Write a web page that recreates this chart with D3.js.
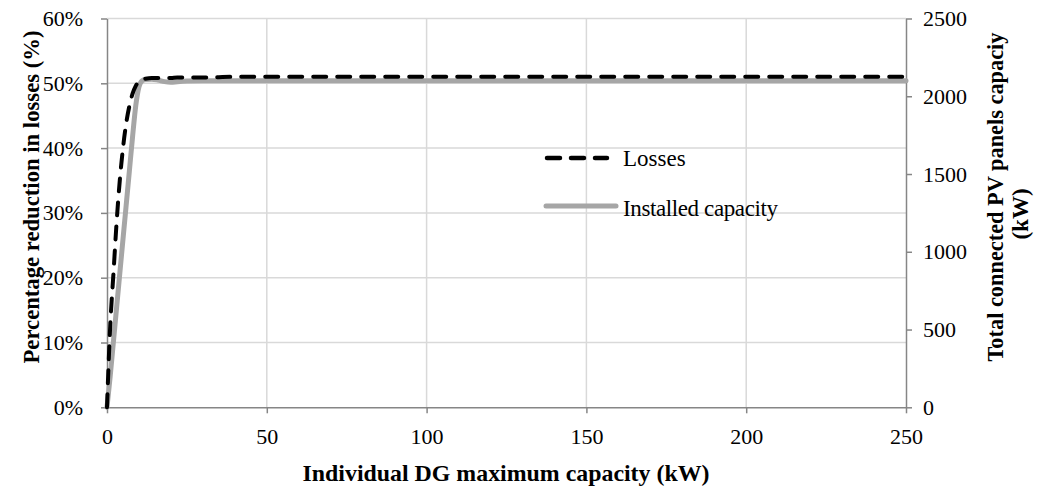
<!DOCTYPE html>
<html>
<head>
<meta charset="utf-8">
<script src="https://cdn.jsdelivr.net/npm/d3@7"></script>
<style>
  html, body { margin: 0; padding: 0; background: #fff; }
  svg { display: block; font-family: "Liberation Serif", "Times New Roman", serif; }
</style>
</head>
<body>
<svg id="chart" width="1041" height="489"></svg>
<script>
// Individual DG maximum capacity (kW)
const capacityKW = [0, 1, 2, 3, 4, 5, 6, 7, 8, 9, 10, 11, 12, 14, 16, 18, 20, 22, 25, 30, 40, 50, 75, 100, 125, 150, 175, 200, 225, 250];
// Percentage reduction in losses (fraction)
const lossReduction = [0, 0.125, 0.205, 0.285, 0.35, 0.40, 0.438, 0.465, 0.484, 0.496, 0.503, 0.506, 0.507, 0.508, 0.508, 0.508, 0.508, 0.509, 0.509, 0.509, 0.51, 0.51, 0.51, 0.51, 0.51, 0.51, 0.51, 0.51, 0.51, 0.51];
// Total connected PV panels capacity (kW)
const installedPV = [0, 200, 420, 640, 860, 1080, 1300, 1520, 1740, 1940, 2060, 2100, 2108, 2110, 2104, 2094, 2090, 2094, 2098, 2100, 2100, 2100, 2100, 2100, 2100, 2100, 2100, 2100, 2100, 2100];

const xTicks = [0, 50, 100, 150, 200, 250];
const leftTicks = [0, 0.1, 0.2, 0.3, 0.4, 0.5, 0.6];
const rightTicks = [0, 500, 1000, 1500, 2000, 2500];

const svg = d3.select("#chart");
const plot = { left: 107, right: 906, top: 18.5, bottom: 407.3 };

const x = d3.scaleLinear().domain([0, 250]).range([plot.left, plot.right]);
const yL = d3.scaleLinear().domain([0, 0.6]).range([plot.bottom, plot.top]);
const yR = d3.scaleLinear().domain([0, 2500]).range([plot.bottom, plot.top]);

const gridColor = "#d9d9d9";
const axisColor = "#868686";
const tickFont = 22;
const labelFont = 23;

// Gridlines
svg.append("g").selectAll("line.h").data(leftTicks.slice(1)).join("line")
  .attr("x1", plot.left).attr("x2", plot.right)
  .attr("y1", d => yL(d)).attr("y2", d => yL(d))
  .attr("stroke", gridColor).attr("stroke-width", 1.5);
svg.append("g").selectAll("line.v").data(xTicks.slice(1, -1)).join("line")
  .attr("x1", d => x(d)).attr("x2", d => x(d))
  .attr("y1", plot.top).attr("y2", plot.bottom)
  .attr("stroke", gridColor).attr("stroke-width", 1.5);

// Axes
function styleAxis(g) {
  g.select(".domain").attr("stroke", axisColor).attr("stroke-width", 1.5);
  g.selectAll(".tick line").attr("stroke", axisColor).attr("stroke-width", 1.5);
  g.selectAll(".tick text").attr("fill", "#000").style("font-size", tickFont + "px")
    .style("font-family", "'Liberation Serif', 'Times New Roman', serif");
}

svg.append("g").attr("transform", `translate(0,${plot.bottom})`)
  .call(d3.axisBottom(x).tickValues(xTicks).tickSize(6).tickPadding(15).tickSizeOuter(0))
  .call(styleAxis);

svg.append("g").attr("transform", `translate(${plot.left},0)`)
  .call(d3.axisLeft(yL).tickValues(leftTicks).tickFormat(d3.format(".0%")).tickSize(6).tickPadding(18).tickSizeOuter(0))
  .call(styleAxis);

svg.append("g").attr("transform", `translate(${plot.right},0)`)
  .call(d3.axisRight(yR).tickValues(rightTicks).tickFormat(d3.format("d")).tickSize(6).tickPadding(11).tickSizeOuter(0))
  .call(styleAxis);

// Series
const data = capacityKW.map((c, i) => ({ c, loss: lossReduction[i], pv: installedPV[i] }));

svg.append("path").datum(data)
  .attr("fill", "none").attr("stroke", "#a6a6a6").attr("stroke-width", 5)
  .attr("stroke-linejoin", "round").attr("stroke-linecap", "round")
  .attr("d", d3.line().x(d => x(d.c)).y(d => yR(d.pv)).curve(d3.curveMonotoneX));

svg.append("path").datum(data)
  .attr("fill", "none").attr("stroke", "#000").attr("stroke-width", 4)
  .attr("stroke-dasharray", "13,11").attr("stroke-linecap", "round")
  .attr("d", d3.line().x(d => x(d.c)).y(d => yL(d.loss)).curve(d3.curveMonotoneX));

// Legend
const legend = svg.append("g").style("font-size", labelFont + "px");
legend.append("line").attr("x1", 547).attr("x2", 607).attr("y1", 158).attr("y2", 158)
  .attr("stroke", "#000").attr("stroke-width", 4.5).attr("stroke-dasharray", "13,11").attr("stroke-linecap", "round");
legend.append("text").attr("x", 623).attr("y", 166).text("Losses");
legend.append("line").attr("x1", 546).attr("x2", 616).attr("y1", 206).attr("y2", 206)
  .attr("stroke", "#a6a6a6").attr("stroke-width", 5).attr("stroke-linecap", "round");
legend.append("text").attr("x", 623).attr("y", 216).attr("textLength", 155).text("Installed capacity");

// Axis titles
svg.append("text").attr("x", 506).attr("y", 481).attr("text-anchor", "middle")
  .style("font-size", labelFont + "px").style("font-weight", "bold")
  .attr("textLength", 407).attr("lengthAdjust", "spacingAndGlyphs")
  .text("Individual DG maximum capacity (kW)");

svg.append("text").attr("transform", "translate(39,197) rotate(-90)").attr("text-anchor", "middle")
  .style("font-size", labelFont + "px").style("font-weight", "bold")
  .attr("textLength", 333).attr("lengthAdjust", "spacingAndGlyphs")
  .text("Percentage reduction in losses (%)");

svg.append("text").attr("transform", "translate(1003,197) rotate(-90)").attr("text-anchor", "middle")
  .style("font-size", labelFont + "px").style("font-weight", "bold")
  .attr("textLength", 329).attr("lengthAdjust", "spacingAndGlyphs")
  .text("Total connected PV  panels capaciy");
svg.append("text").attr("transform", "translate(1028,214) rotate(-90)").attr("text-anchor", "middle")
  .style("font-size", labelFont + "px").style("font-weight", "bold")
  .text("(kW)");
</script>
</body>
</html>
